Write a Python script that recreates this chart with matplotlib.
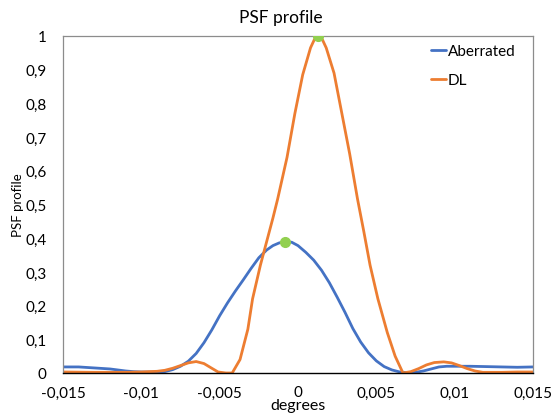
import matplotlib
matplotlib.use('Agg')
import matplotlib.pyplot as plt
from matplotlib.ticker import FuncFormatter

# values
x_ab = [-0.015, -0.014, -0.013, -0.012, -0.011, -0.0105, -0.010, -0.009, -0.0085,
        -0.008, -0.0075, -0.007, -0.0065, -0.006, -0.0055, -0.005, -0.0045, -0.004,
        -0.0035, -0.003, -0.0025, -0.002, -0.0016, -0.0012, -0.0008, -0.0004, 0.0,
        0.0005, 0.001, 0.0015, 0.002, 0.0025, 0.003, 0.0035, 0.004, 0.0045, 0.005,
        0.0055, 0.006, 0.0065, 0.007, 0.0075, 0.008, 0.0085, 0.009, 0.0095, 0.010,
        0.011, 0.012, 0.013, 0.014, 0.015]
y_ab = [0.018, 0.018, 0.015, 0.012, 0.006, 0.004, 0.003, 0.003, 0.004,
        0.010, 0.020, 0.035, 0.058, 0.090, 0.128, 0.170, 0.208, 0.243,
        0.276, 0.310, 0.342, 0.365, 0.378, 0.386, 0.390, 0.388, 0.378,
        0.358, 0.335, 0.305, 0.268, 0.225, 0.180, 0.132, 0.092, 0.060, 0.036,
        0.019, 0.009, 0.003, 0.001, 0.002, 0.006, 0.012, 0.018, 0.020, 0.020,
        0.020, 0.019, 0.018, 0.017, 0.018]

x_dl = [-0.015, -0.013, -0.011, -0.010, -0.009, -0.0085, -0.008, -0.0075, -0.007,
        -0.0065, -0.006, -0.0055, -0.0051, -0.0046, -0.0042, -0.0037, -0.0032,
        -0.0029, -0.0024, -0.002, -0.0016, -0.0013, -0.0007, -0.0002, 0.0003,
        0.0008, 0.00105, 0.0013, 0.00155, 0.0018, 0.0023, 0.0028, 0.0033, 0.0038,
        0.0042, 0.0046, 0.0051, 0.0057, 0.0062, 0.0067, 0.0072, 0.0077, 0.0082,
        0.0087, 0.0093, 0.0098, 0.0103, 0.0108, 0.0113, 0.0118, 0.013, 0.014, 0.015]
y_dl = [0.003, 0.002, 0.002, 0.003, 0.005, 0.008, 0.014, 0.022, 0.030,
        0.034, 0.028, 0.014, 0.003, 0.0, 0.0, 0.04, 0.13,
        0.22, 0.32, 0.39, 0.46, 0.516, 0.64, 0.77, 0.885,
        0.965, 0.99, 1.0, 0.99, 0.965, 0.89, 0.77, 0.65, 0.516,
        0.42, 0.32, 0.22, 0.12, 0.05, 0.0, 0.004, 0.013, 0.024,
        0.031, 0.033, 0.030, 0.022, 0.013, 0.006, 0.002, 0.002, 0.003, 0.003]

x_peak = [-0.0008, 0.0013]
y_peak = [0.39, 1.0]

x_ticks = [-0.015, -0.01, -0.005, 0, 0.005, 0.01, 0.015]
y_ticks = [0, 0.1, 0.2, 0.3, 0.4, 0.5, 0.6, 0.7, 0.8, 0.9, 1]

plt.rcParams['font.family'] = ['Lato', 'DejaVu Sans']

fig = plt.figure(figsize=(5.51, 4.14), dpi=100)
ax = fig.add_axes([63/551, 40/414, 470/551, 337/414])

ax.plot(x_ab, y_ab, color='#4472C4', lw=2.0, label='Aberrated', solid_capstyle='round')
ax.plot(x_dl, y_dl, color='#ED7D31', lw=2.0, label='DL', solid_capstyle='round')
ax.plot(x_peak, y_peak, 'o', color='#92D050', ms=7, zorder=5)

ax.set_xlim(-0.015, 0.015)
ax.set_ylim(0, 1)
ax.set_xticks(x_ticks)
ax.set_yticks(y_ticks)

def comma(v, pos):
    s = ('%.3f' % v).rstrip('0').rstrip('.')
    if s == '-0':
        s = '0'
    return s.replace('.', ',')

ax.xaxis.set_major_formatter(FuncFormatter(comma))
ax.yaxis.set_major_formatter(FuncFormatter(comma))
ax.tick_params(axis='both', length=0, labelsize=11, colors='#000000')
ax.tick_params(axis='y', pad=12)
ax.tick_params(axis='x', pad=9)

for side in ['left', 'top', 'right']:
    ax.spines[side].set_color('#8C8C8C')
    ax.spines[side].set_linewidth(0.9)
ax.spines['bottom'].set_color('#000000')
ax.spines['bottom'].set_linewidth(1.0)

ax.set_xlabel('degrees', fontsize=11.5, va='bottom')
ax.xaxis.set_label_coords(0.5, -39/337)
ax.set_ylabel('PSF profile', fontsize=9.5)
ax.yaxis.set_label_coords(-39/470, 0.5)
fig.text(281/551, 1 - 18/414, 'PSF profile', ha='center', va='center', fontsize=12.5)

ax.legend(loc='upper left', bbox_to_anchor=(362/470, 1 - 2/337), frameon=False,
          handlelength=1.0, handletextpad=0.1, labelspacing=1.0, fontsize=11,
          borderaxespad=0)

fig.savefig('out.png', dpi=100)
